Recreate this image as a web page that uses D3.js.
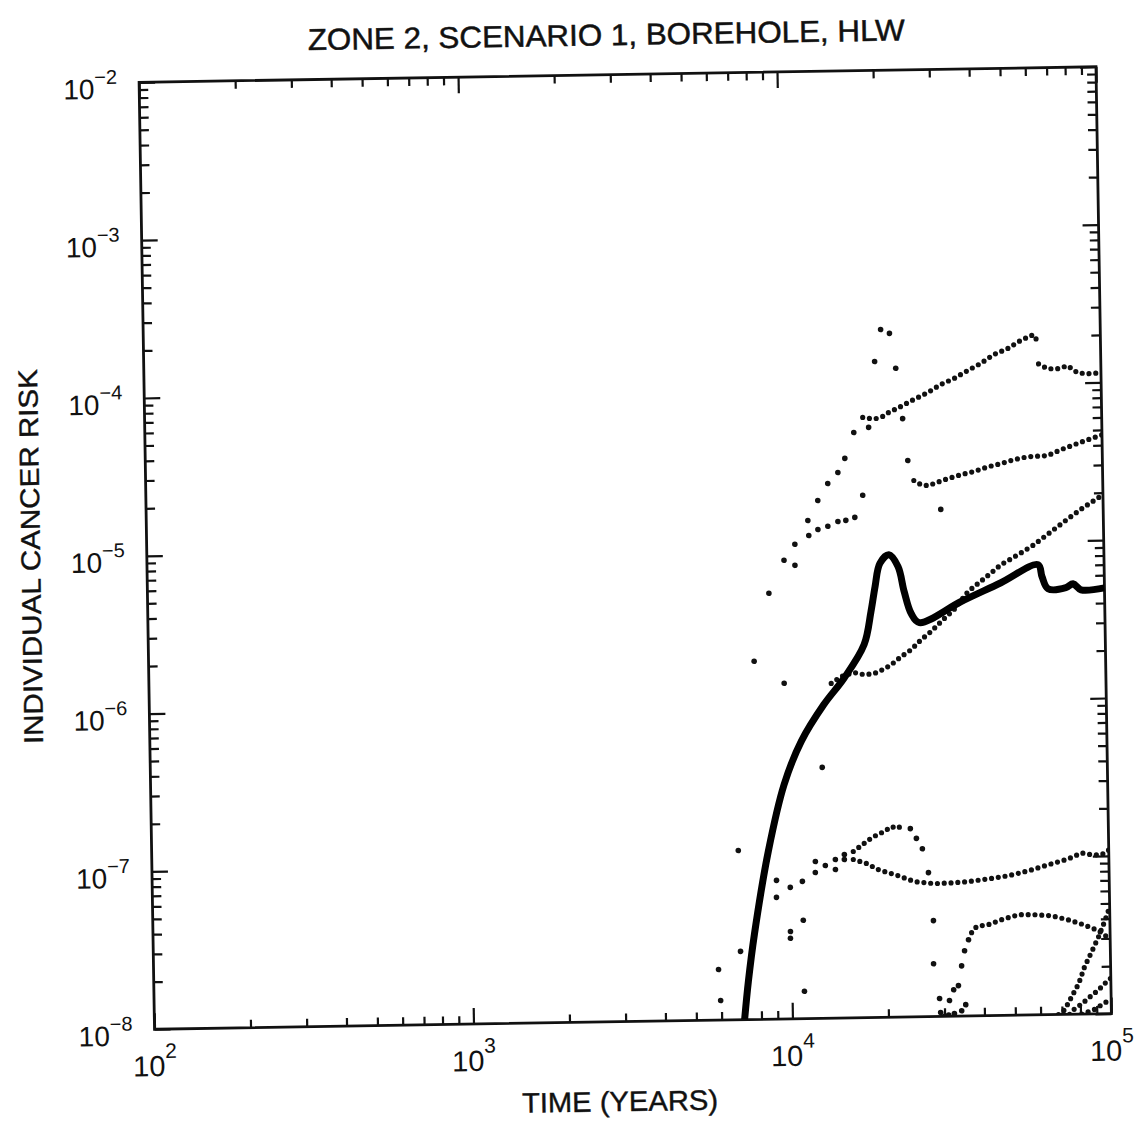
<!DOCTYPE html>
<html>
<head>
<meta charset="utf-8">
<script src="https://cdn.jsdelivr.net/npm/d3@7"></script>
<style>
  body { margin: 0; background: #fff; }
  text { font-family: "Liberation Sans", Arial, sans-serif; fill: #111; }
</style>
</head>
<body>
<svg id="chart" width="1134" height="1124"></svg>
<script>
// ---- values: [time in years, individual cancer risk] ----
var titleText = "ZONE 2, SCENARIO 1, BOREHOLE, HLW";
var xTitle = "TIME (YEARS)";
var yTitle = "INDIVIDUAL CANCER RISK";

var xMajor = [1e2, 1e3, 1e4, 1e5];
var yMajor = [1e-8, 1e-7, 1e-6, 1e-5, 1e-4, 1e-3, 1e-2];

// heavy solid curve (total)
var totalRisk = [[7080,1.0e-8],[7310,1.75e-8],[7675,3.46e-8],[8570,1.16e-7],[9680,3.06e-7],
  [11010,5.71e-7],[13030,9.75e-7],[15100,1.42e-6],[17530,2.31e-6],[18490,3.73e-6],[19100,5.37e-6],
  [19830,7.52e-6],[21180,8.5e-6],[22590,7.15e-6],[23550,4.96e-6],[24710,3.59e-6],[26180,3.14e-6],
  [35480,4.23e-6],[47400,5.51e-6],[62080,7.11e-6],[63800,5.96e-6],[66530,4.99e-6],[75700,5.05e-6],
  [79760,5.33e-6],[84370,4.88e-6],[100000,4.99e-6]];

// densely sampled dotted curves
var upperA = [[17820,6.35e-5],[18620,6.25e-5],[19590,6.22e-5],[20590,6.41e-5],[21510,6.78e-5],
  [23480,7.38e-5],[25820,8.15e-5],[28560,8.98e-5],[31400,1.007e-4],[34510,1.094e-4],[38190,1.226e-4],
  [41980,1.355e-4],[46130,1.538e-4],[51060,1.672e-4],[56110,1.875e-4],[61660,2.04e-4],[63940,1.81e-4]];
var upperATail = [[63800,1.33e-4],[68030,1.236e-4],[73110,1.233e-4],[78650,1.285e-4],[84500,1.156e-4],
  [90780,1.138e-4],[100000,1.15e-4]];
var upperB = [[25580,2.50e-5],[26900,2.35e-5],[28310,2.31e-5],[29580,2.38e-5],[32730,2.55e-5],
  [35970,2.69e-5],[39530,2.81e-5],[43750,3.00e-5],[47970,3.13e-5],[52840,3.31e-5],[58350,3.44e-5],
  [67450,3.48e-5],[74130,3.78e-5],[81470,4.05e-5],[90300,4.35e-5],[100000,4.66e-5]];
var middleC = [[13760,1.32e-6],[14800,1.46e-6],[16260,1.54e-6],[17460,1.49e-6],[18780,1.51e-6],
  [20050,1.60e-6],[21260,1.71e-6],[22860,1.92e-6],[24600,2.12e-6],[26480,2.45e-6],[28460,2.75e-6],
  [30620,3.17e-6],[33650,3.76e-6],[37330,4.88e-6],[41980,5.87e-6],[47530,7.17e-6],[53830,8.26e-6],
  [60400,9.51e-6],[68390,1.146e-5],[77450,1.378e-5],[87100,1.63e-5],[100000,1.94e-5]];
var humpD = [[15820,1.132e-7],[16790,1.233e-7],[17790,1.343e-7],[18870,1.442e-7],[19830,1.503e-7],
  [20890,1.615e-7],[21810,1.567e-7],[22760,1.656e-7]];
var valleyD = [[15810,1.007e-7],[16990,9.62e-8],[17750,9.33e-8],[18530,8.77e-8],[19770,8.39e-8],
  [20780,8.13e-8],[21840,7.87e-8],[24500,7.19e-8],[28320,6.95e-8],[32720,7.01e-8],[36210,7.10e-8],
  [41850,7.36e-8],[48310,7.66e-8],[55870,8.20e-8],[64570,8.91e-8],[74680,9.66e-8],[82060,1.05e-7],
  [88160,1.02e-7],[94840,1.016e-7],[100000,1.09e-7]];
var lowE = [[36810,3.37e-8],[38140,3.67e-8],[39540,3.72e-8],[41590,3.77e-8],[45710,4.04e-8],
  [51760,4.33e-8],[58070,4.31e-8],[65610,4.23e-8],[74130,3.97e-8],[83180,3.67e-8],[92040,3.36e-8],
  [100000,2.97e-8]];
var lateF = [[68270,1.0e-8],[71420,1.07e-8],[75170,1.29e-8],[79250,1.56e-8],[82820,1.99e-8],
  [87300,2.47e-8],[92000,3.08e-8],[96150,3.82e-8],[100000,4.74e-8]];
var lateG = [[73960,1.0e-8],[76200,1.07e-8],[80750,1.16e-8],[85700,1.28e-8],[91440,1.42e-8],
  [95500,1.55e-8],[100000,1.68e-8]];
var lateH = [[80700,1.0e-8],[88000,1.06e-8],[93300,1.14e-8],[100000,1.24e-8]];

// sparse samples (fast-changing parts, drawn as single dots)
var riseS1 = [[8870,4.99e-6],[9930,8.05e-6],[10760,1.014e-5],[11850,1.43e-5],[12760,1.91e-5],
  [13740,2.44e-5],[14800,2.86e-5],[15590,3.51e-5],[16680,5.11e-5]];
var spikeS2 = [[10740,7.46e-6],[11910,1.15e-5],[12730,1.25e-5],[13680,1.31e-5],[14720,1.40e-5],
  [15590,1.42e-5],[16640,1.48e-5],[17660,2.04e-5],[18580,5.48e-5],[19550,1.43e-4],[20490,2.28e-4],
  [21830,2.15e-4],[22750,1.29e-4],[23770,6.18e-5],[24550,3.35e-5]];
var earlyDots = [[30970,1.63e-5],[7910,1.86e-6],[9800,1.34e-6],[12770,3.89e-7],[6900,1.18e-7],
  [6930,2.71e-8],[5900,2.09e-8],[5970,1.33e-8],[9960,3.58e-8],[9950,3.24e-8],[10940,4.20e-8],
  [10940,1.49e-8]];
var lowDots = [[9060,7.57e-8],[9040,5.90e-8],[10000,6.81e-8],[10920,7.41e-8],[12020,9.88e-8],
  [12000,8.41e-8],[12910,9.29e-8],[13890,1.012e-7],[13880,8.75e-8],[14830,1.086e-7],[14820,1.01e-7],
  [23950,1.56e-7],[24990,1.35e-7],[26060,1.16e-7],[27150,8.17e-8]];
var bottomDots = [[27990,4.05e-8],[27870,2.16e-8],[28990,1.30e-8],[29170,1.06e-8],[30000,1.0e-8],
  [30900,1.02e-8],[31130,1.26e-8],[32130,1.47e-8],[33270,1.56e-8],[32210,1.04e-8],[33960,1.08e-8],
  [34990,1.18e-8],[34120,2.08e-8],[34910,2.59e-8],[35970,3.04e-8]];

var dottedSeries = [upperA, upperATail, upperB, middleC, humpD, valleyD, lowE, lateF, lateG, lateH];
var dotSeries = [riseS1, spikeS2, earlyDots, lowDots, bottomDots];

// ---- layout ----
var svg = d3.select("#chart"),
    margin = {left: 146.75, top: 74.5},
    width = 957,
    height = 947;
var cx = margin.left + width / 2, cy = margin.top + height / 2;

// the scanned page sits slightly tilted
var page = svg.append("g").attr("transform", "rotate(-0.933," + cx + "," + cy + ")");
var g = page.append("g").attr("transform", "translate(" + margin.left + "," + margin.top + ")");

var x = d3.scaleLog().domain([1e2, 1e5]).range([0, width]);
var y = d3.scaleLog().domain([1e-8, 1e-2]).range([height, 0]);

function minors(majors) {
  var out = [];
  for (var i = 0; i < majors.length - 1; i++)
    for (var k = 2; k <= 9; k++) out.push(majors[i] * k);
  return out;
}
var xMinor = minors(xMajor), yMinor = minors(yMajor);

g.append("defs").append("clipPath").attr("id", "plotclip")
  .append("rect").attr("width", width).attr("height", height);

// ticks on all four sides, pointing inward
function tickAxis(axis, vals, size, transform) {
  var a = g.append("g").attr("transform", transform)
    .call(axis.tickValues(vals).tickSizeInner(-size).tickSizeOuter(0).tickFormat(""));
  a.select(".domain").remove();
  a.selectAll("line").attr("stroke", "#111").attr("stroke-width", 2.2);
}
tickAxis(d3.axisBottom(x), xMajor, 16, "translate(0," + height + ")");
tickAxis(d3.axisBottom(x), xMinor, 8, "translate(0," + height + ")");
tickAxis(d3.axisTop(x), xMajor, 16, "translate(0,0)");
tickAxis(d3.axisTop(x), xMinor, 8, "translate(0,0)");
tickAxis(d3.axisLeft(y), yMajor, 16, "translate(0,0)");
tickAxis(d3.axisLeft(y), yMinor, 9, "translate(0,0)");
tickAxis(d3.axisRight(y), yMajor, 16, "translate(" + width + ",0)");
tickAxis(d3.axisRight(y), yMinor, 9, "translate(" + width + ",0)");

g.append("rect").attr("width", width).attr("height", height)
  .attr("fill", "none").attr("stroke", "#111").attr("stroke-width", 2.8);

// tick labels 10^n
var xl = g.selectAll(".xlab").data(xMajor).enter().append("text")
  .attr("class", "xlab")
  .attr("x", function(d) { return x(d); })
  .attr("y", height + 47)
  .attr("text-anchor", "middle")
  .attr("font-size", 29);
xl.append("tspan").text("10");
xl.append("tspan").attr("font-size", 21).attr("dy", -18)
  .text(function(d) { return Math.round(Math.log10(d)); });

var yl = g.selectAll(".ylab").data(yMajor).enter().append("text")
  .attr("class", "ylab")
  .attr("x", -22)
  .attr("y", function(d) { return y(d) + 16; })
  .attr("text-anchor", "end")
  .attr("font-size", 28);
yl.append("tspan").text("10");
yl.append("tspan").attr("font-size", 20).attr("dy", -15)
  .text(function(d) { return "\u2212" + Math.abs(Math.round(Math.log10(d))); });

// data
var plot = g.append("g").attr("clip-path", "url(#plotclip)");

var line = d3.line()
  .x(function(d) { return x(d[0]); })
  .y(function(d) { return y(d[1]); });

plot.selectAll(".dotted").data(dottedSeries).enter().append("path")
  .attr("class", "dotted")
  .attr("d", line)
  .attr("fill", "none")
  .attr("stroke", "#111")
  .attr("stroke-width", 5.2)
  .attr("stroke-linecap", "round")
  .attr("stroke-dasharray", "0,6.8");

plot.selectAll(".dots").data(dotSeries).enter().append("g")
  .attr("class", "dots")
  .selectAll("circle")
  .data(function(d) { return d; })
  .enter().append("circle")
  .attr("cx", function(d) { return x(d[0]); })
  .attr("cy", function(d) { return y(d[1]); })
  .attr("r", 2.8)
  .attr("fill", "#111");

plot.append("path")
  .datum(totalRisk)
  .attr("d", line.curve(d3.curveCatmullRom.alpha(0.5)))
  .attr("fill", "none")
  .attr("stroke", "#000")
  .attr("stroke-width", 7)
  .attr("stroke-linejoin", "round");

// titles (positions in the un-tilted frame)
page.append("text")
  .attr("x", 614.6).attr("y", 45)
  .attr("text-anchor", "middle")
  .attr("font-size", 30)
  .attr("stroke", "#111").attr("stroke-width", 0.5)
  .attr("textLength", 597).attr("lengthAdjust", "spacingAndGlyphs")
  .text(titleText);

page.append("text")
  .attr("x", 611).attr("y", 1111)
  .attr("text-anchor", "middle")
  .attr("font-size", 28)
  .attr("stroke", "#111").attr("stroke-width", 0.4)
  .attr("textLength", 196).attr("lengthAdjust", "spacingAndGlyphs")
  .text(xTitle);

page.append("text")
  .attr("transform", "translate(40,547) rotate(-90)")
  .attr("text-anchor", "middle")
  .attr("font-size", 27)
  .attr("stroke", "#111").attr("stroke-width", 0.4)
  .attr("textLength", 375).attr("lengthAdjust", "spacingAndGlyphs")
  .text(yTitle);
</script>
</body>
</html>
